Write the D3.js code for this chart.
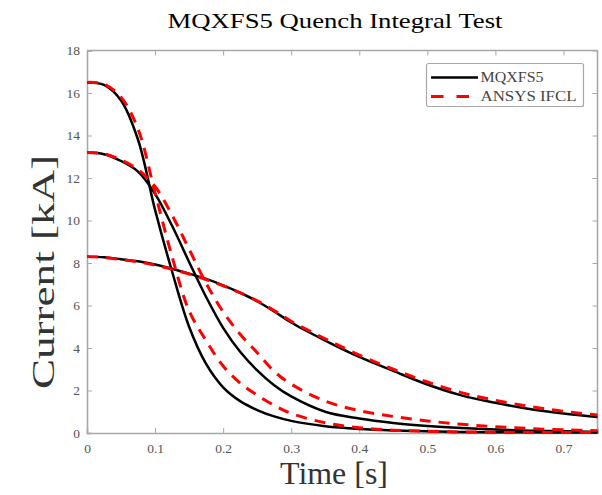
<!DOCTYPE html>
<html>
<head>
<meta charset="utf-8">
<script src="https://cdn.jsdelivr.net/npm/d3@7"></script>
<style>
  body { margin: 0; background: #fff; }
  svg { display: block; }
  text { font-family: "Liberation Serif", "DejaVu Serif", serif; }
</style>
</head>
<body>
<svg id="chart"></svg>
<script>
// time samples [s]
const time = [0, 0.025, 0.05, 0.075, 0.1, 0.125, 0.15, 0.175, 0.2, 0.225, 0.25,
  0.275, 0.3, 0.35, 0.4, 0.45, 0.5, 0.55, 0.6, 0.65, 0.7, 0.75];

// measured MQXFS5 currents [kA]
const test165 = [16.5, 16.38, 15.65, 13.8, 10.5, 7.6, 5.0, 3.25, 2.15, 1.5, 1.08,
  0.78, 0.57, 0.32, 0.19, 0.12, 0.08, 0.05, 0.04, 0.03, 0.02, 0.02];
const test132 = [13.2, 13.12, 12.8, 12.3, 11.25, 9.75, 8.05, 6.4, 4.95, 3.82, 2.95,
  2.25, 1.72, 1.0, 0.68, 0.47, 0.33, 0.23, 0.16, 0.11, 0.08, 0.05];
const test83 = [8.3, 8.27, 8.18, 8.08, 7.93, 7.73, 7.5, 7.25, 6.95, 6.6, 6.2,
  5.72, 5.2, 4.35, 3.58, 2.92, 2.28, 1.77, 1.42, 1.13, 0.92, 0.75];

// ANSYS IFCL simulation [kA]
const sim165 = [16.5, 16.42, 15.8, 14.3, 11.3, 8.3, 5.75, 4.35, 3.15, 2.35, 1.78,
  1.3, 0.92, 0.48, 0.25, 0.13, 0.08, 0.05, 0.04, 0.03, 0.02, 0.02];
const sim132 = [13.2, 13.14, 12.85, 12.4, 11.6, 10.25, 8.65, 7.05, 5.7, 4.65, 3.78,
  2.9, 2.3, 1.5, 1.05, 0.78, 0.57, 0.41, 0.3, 0.21, 0.15, 0.11];
const sim83 = [8.3, 8.26, 8.16, 8.05, 7.9, 7.71, 7.48, 7.22, 6.93, 6.6, 6.22,
  5.76, 5.26, 4.43, 3.67, 3.0, 2.4, 1.9, 1.54, 1.25, 1.02, 0.85];

const xTicks = [0, 0.1, 0.2, 0.3, 0.4, 0.5, 0.6, 0.7];
const yTicks = [0, 2, 4, 6, 8, 10, 12, 14, 16, 18];
const legendLabels = ['MQXFS5', 'ANSYS IFCL'];

const width = 602, height = 495;
const margin = { top: 50.5, right: 4.5, bottom: 62, left: 87 };
const innerW = width - margin.left - margin.right;
const innerH = height - margin.top - margin.bottom;

const svg = d3.select('#chart').attr('width', width).attr('height', height);

const x = d3.scaleLinear().domain([0, 0.75]).range([0, innerW]);
const y = d3.scaleLinear().domain([0, 18]).range([innerH, 0]);

const g = svg.append('g').attr('transform', `translate(${margin.left},${margin.top})`);

// axes with inward ticks, boxed like matlab
const axisColor = '#a8a8a8';
const tickColor = '#555';

const xAxis = g.append('g').attr('transform', `translate(0,${innerH})`)
  .call(d3.axisBottom(x).tickValues(xTicks).tickSize(-5).tickPadding(10)
    .tickFormat(d => d === 0 ? '0' : d3.format('.1f')(d)));
const yAxis = g.append('g')
  .call(d3.axisLeft(y).tickValues(yTicks).tickSize(-5).tickPadding(7));
const xTop = g.append('g')
  .call(d3.axisTop(x).tickValues(xTicks).tickSize(-5).tickFormat(''));
const yRight = g.append('g').attr('transform', `translate(${innerW},0)`)
  .call(d3.axisRight(y).tickValues(yTicks).tickSize(-5).tickFormat(''));

[xAxis, yAxis, xTop, yRight].forEach(a => {
  a.select('.domain').attr('stroke', axisColor).attr('stroke-width', 1.6);
  a.selectAll('.tick line').attr('stroke', axisColor);
  a.selectAll('.tick text').attr('fill', tickColor).attr('font-size', 13.5)
    .style('font-family', '"Liberation Serif", serif');
});
xTop.select('.domain').attr('d', `M0,0H${innerW}`);
yRight.select('.domain').attr('d', `M0,0V${innerH}`);

const line = d3.line()
  .x((d, i) => x(time[i]))
  .y(d => y(d))
  .curve(d3.curveCatmullRom.alpha(0.5));

const plot = g.append('g');

[test165, test132, test83].forEach(s => {
  plot.append('path').datum(s)
    .attr('d', line)
    .attr('fill', 'none')
    .attr('stroke', '#000')
    .attr('stroke-width', 2.5);
});
[sim165, sim132, sim83].forEach(s => {
  plot.append('path').datum(s)
    .attr('d', line)
    .attr('fill', 'none')
    .attr('stroke', '#ff0000')
    .attr('stroke-width', 3)
    .attr('stroke-dasharray', '11,8');
});

// title and axis labels
svg.append('text')
  .attr('x', 335).attr('y', 28)
  .attr('text-anchor', 'middle')
  .attr('font-size', 22)
  .attr('textLength', 335)
  .attr('lengthAdjust', 'spacingAndGlyphs')
  .text('MQXFS5 Quench Integral Test');

svg.append('text')
  .attr('x', 334).attr('y', 484)
  .attr('text-anchor', 'middle')
  .attr('font-size', 31)
  .attr('fill', '#333')
  .attr('textLength', 108)
  .attr('lengthAdjust', 'spacingAndGlyphs')
  .text('Time [s]');

svg.append('text')
  .attr('transform', 'translate(54,272) rotate(-90)')
  .attr('text-anchor', 'middle')
  .attr('font-size', 32)
  .attr('fill', '#333')
  .attr('textLength', 234)
  .attr('lengthAdjust', 'spacingAndGlyphs')
  .text('Current [kA]');

// legend
const legend = svg.append('g').attr('transform', 'translate(426.5,63.5)');
legend.append('rect')
  .attr('width', 157).attr('height', 43).attr('rx', 2)
  .attr('fill', '#fff').attr('stroke', axisColor).attr('stroke-width', 1.2);
const legendStyles = [
  { stroke: '#000', dash: null, w: 2.5, len: 63 },
  { stroke: '#ff0000', dash: '12.5,13', w: 3, len: 96 }
];
legendLabels.forEach((label, i) => {
  const ly = 14 + i * 19;
  legend.append('line')
    .attr('x1', 4.5).attr('x2', 51.5).attr('y1', ly).attr('y2', ly)
    .attr('stroke', legendStyles[i].stroke)
    .attr('stroke-width', legendStyles[i].w)
    .attr('stroke-dasharray', legendStyles[i].dash);
  legend.append('text')
    .attr('x', 54).attr('y', ly + 4)
    .attr('font-size', 14)
    .attr('fill', '#444')
    .attr('textLength', legendStyles[i].len)
    .attr('lengthAdjust', 'spacingAndGlyphs')
    .text(label);
});
</script>
</body>
</html>
